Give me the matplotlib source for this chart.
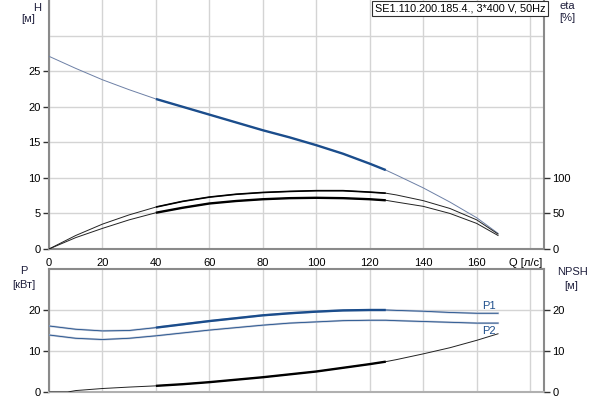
import matplotlib
matplotlib.use("Agg")
import matplotlib.pyplot as plt
import numpy as np

plt.rcParams['font.family'] = ['Liberation Sans', 'DejaVu Sans']

# ---- data ----
q = [0, 10, 20, 30, 40, 50, 60, 70, 80, 90, 100, 110, 120, 126, 130, 140, 150, 160, 168]
head = [27.1, 25.4, 23.8, 22.4, 21.1, 20.0, 18.9, 17.8, 16.7, 15.7, 14.6, 13.4, 12.0, 11.1, 10.4, 8.6, 6.6, 4.4, 2.2]
eta_total = [0, 19, 35, 48, 59, 67, 73, 77, 79.5, 81, 82, 82, 80, 78.5, 76, 68, 57, 41, 21]
eta_pump = [0, 16, 29, 41, 51, 58, 64, 67.5, 70, 71.5, 72, 71.5, 70, 68.5, 66, 60, 50, 36, 19]
p1 = [16.1, 15.3, 14.9, 15.0, 15.7, 16.5, 17.3, 18.0, 18.7, 19.2, 19.6, 19.9, 20.0, 20.0, 19.9, 19.7, 19.4, 19.2, 19.2]
p2 = [13.9, 13.1, 12.8, 13.1, 13.7, 14.4, 15.1, 15.7, 16.3, 16.8, 17.1, 17.4, 17.5, 17.5, 17.4, 17.2, 17.0, 16.8, 16.8]
q_npsh = [0, 7, 10, 20, 30, 40, 50, 60, 70, 80, 90, 100, 110, 120, 126, 130, 140, 150, 160, 168]
npsh = [0, 0, 0.35, 0.85, 1.2, 1.5, 1.9, 2.4, 3.0, 3.6, 4.3, 5.0, 5.9, 6.8, 7.4, 7.9, 9.3, 10.8, 12.6, 14.2]
q_range = (40, 126)
x_ticks = [0, 20, 40, 60, 80, 100, 120, 140, 160]
title_text = "SE1.110.200.185.4., 3*400 V, 50Hz"

W, H = 600, 400
fig = plt.figure(figsize=(6, 4), dpi=100)

def rect(l, t, r, b):
    return [l / W, 1 - b / H, (r - l) / W, (b - t) / H]

grid_c = '#d4d4d4'
spine_c = '#8a8a8a'
fs = 8

ax = fig.add_axes(rect(49, -2, 544, 249))
axb = fig.add_axes(rect(49, 269, 544, 392))

xmax = 185.2
for a in (ax, axb):
    a.set_xlim(0, xmax)
    for xv in x_ticks + [180]:
        a.axvline(xv, color=grid_c, lw=1, zorder=0)
    a.set_xticks([])
    for s in ('left', 'right', 'bottom', 'top'):
        a.spines[s].set_color(spine_c)
        a.spines[s].set_linewidth(1.5)
ax.spines['top'].set_visible(False)
axb.spines['bottom'].set_color('#b0b0b0')

# x tick labels between the panels
for xv in x_ticks:
    ax.text(xv, -0.035, str(xv), transform=ax.get_xaxis_transform(),
            ha='center', va='top', fontsize=fs)
ax.text(180 - 1.5, -0.035, 'Q [л/с]', transform=ax.get_xaxis_transform(),
        ha='center', va='top', fontsize=fs)

# top panel
ax.set_ylim(0, 35.3)
for yv in [5, 10, 15, 20, 25, 30]:
    ax.axhline(yv, color=grid_c, lw=1, zorder=0)
ax.set_yticks([0, 5, 10, 15, 20, 25])
ax.tick_params(axis='y', length=4, width=1, colors='#333333', labelcolor='black', labelsize=fs, pad=2)

axr = ax.twinx()
axr.set_ylim(0, 353)
axr.set_yticks([0, 50, 100])
axr.tick_params(axis='y', length=4, width=1, colors='#333333', labelcolor='black', labelsize=fs, pad=2)
for s in axr.spines.values():
    s.set_visible(False)
axr.set_xlim(0, xmax)

qa = np.array(q)
mask = (qa >= q_range[0]) & (qa <= q_range[1])

def seg(arr):
    return np.array(arr)[mask]

ax.plot(q, head, color='#6d80a6', lw=0.7, zorder=3)
ax.plot(qa[mask], seg(head), color='#1b4d8c', lw=1.7, zorder=4, solid_capstyle='butt')

axr.plot(q, eta_total, color='#222222', lw=0.7, zorder=3)
axr.plot(qa[mask], seg(eta_total), color='black', lw=1.2, zorder=4, solid_capstyle='butt')
axr.plot(q, eta_pump, color='#222222', lw=0.7, zorder=3)
axr.plot(qa[mask], seg(eta_pump), color='black', lw=1.7, zorder=4, solid_capstyle='butt')

# bottom panel
axb.set_ylim(0, 30)
for yv in [10, 20]:
    axb.axhline(yv, color=grid_c, lw=1, zorder=0)
axb.set_yticks([0, 10, 20])
axb.tick_params(axis='y', length=4, width=1, colors='#333333', labelcolor='black', labelsize=fs, pad=2)

axbr = axb.twinx()
axbr.set_ylim(0, 30)
axbr.set_yticks([0, 10, 20])
axbr.tick_params(axis='y', length=4, width=1, colors='#333333', labelcolor='black', labelsize=fs, pad=2)
for s in axbr.spines.values():
    s.set_visible(False)
axbr.set_xlim(0, xmax)

for arr, thick in ((p1, True), (p2, False)):
    axb.plot(q, arr, color='#bcc4d4', lw=1.5, zorder=3)
    axb.plot(q, arr, color='#1f4f8c', lw=0.6, zorder=4)
    if thick:
        axb.plot(qa[mask], seg(arr), color='#1b4d8c', lw=1.7, zorder=5, solid_capstyle='butt')

qn = np.array(q_npsh)
mn = (qn >= q_range[0]) & (qn <= q_range[1])
axbr.plot(q_npsh, npsh, color='#222222', lw=0.7, zorder=3)
axbr.plot(qn[mn], np.array(npsh)[mn], color='black', lw=1.7, zorder=4, solid_capstyle='butt')

axb.text(q[-1] - 1, p1[-1] + 0.6, 'P1', color='#1f4f8c', fontsize=fs, ha='right', va='bottom')
axb.text(q[-1] - 1, p2[-1] - 0.6, 'P2', color='#1f4f8c', fontsize=fs, ha='right', va='top')

# axis labels
lab_c = '#1e1e3c'
fig.text(37 / W, 1 - 8 / H, 'H', fontsize=fs, ha='center', va='center', color=lab_c)
fig.text(28 / W, 1 - 19 / H, '[м]', fontsize=fs, ha='center', va='center', color=lab_c)
fig.text(567 / W, 1 - 6 / H, 'eta', fontsize=fs, ha='center', va='center', color=lab_c)
fig.text(567 / W, 1 - 18 / H, '[%]', fontsize=fs, ha='center', va='center', color=lab_c)
fig.text(24 / W, 1 - 271 / H, 'P', fontsize=fs, ha='center', va='center', color=lab_c)
fig.text(24 / W, 1 - 285 / H, '[кВт]', fontsize=fs, ha='center', va='center', color=lab_c)
fig.text(572 / W, 1 - 272 / H, 'NPSH', fontsize=fs, ha='center', va='center', color=lab_c)
fig.text(571 / W, 1 - 286 / H, '[м]', fontsize=fs, ha='center', va='center', color=lab_c)

fig.text(375 / W, 1 - 8.5 / H, title_text, fontsize=7.8, ha='left', va='center',
         bbox=dict(facecolor='white', edgecolor='#303030', lw=0.8, boxstyle='square,pad=0.25'))

fig.savefig('out.png', dpi=100)
